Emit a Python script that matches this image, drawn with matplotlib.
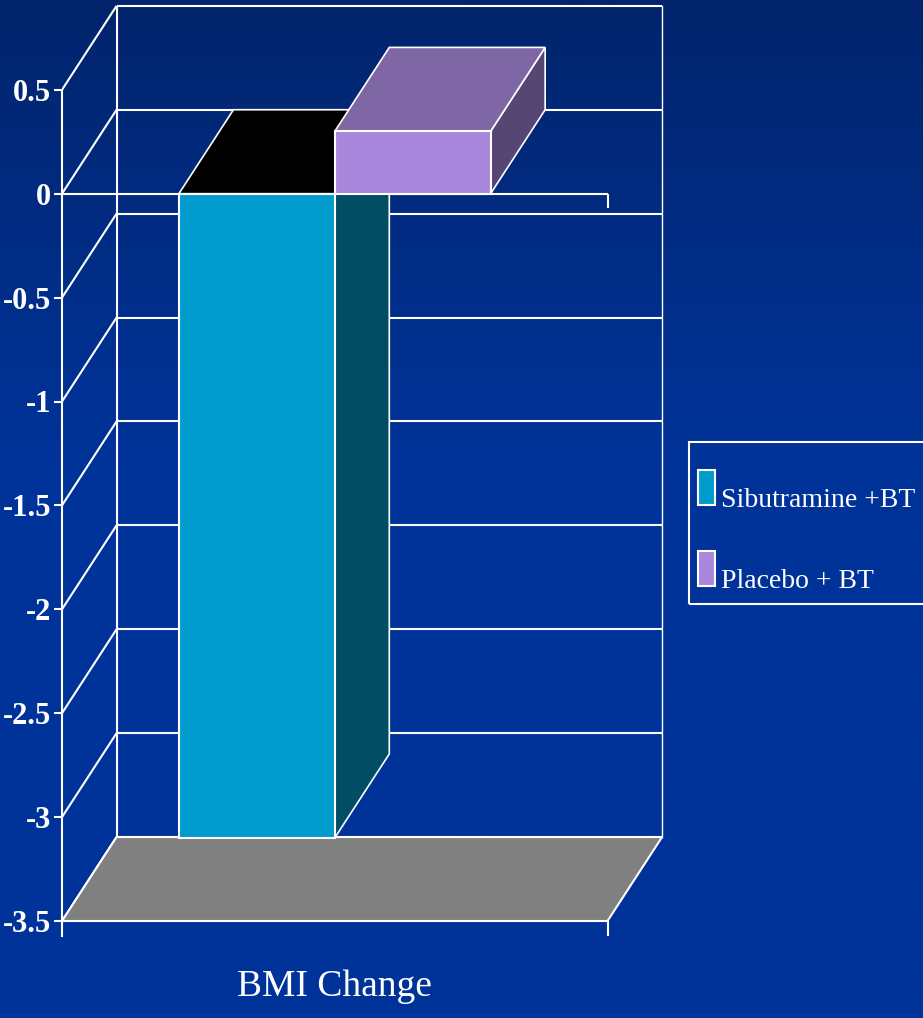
import matplotlib.pyplot as plt
import numpy as np
from matplotlib.patches import Polygon, Rectangle

categories = ["BMI Change"]
series_names = ["Sibutramine +BT", "Placebo + BT"]
bmi_change = [-3.1, 0.3]
y_ticks = [-3.5, -3, -2.5, -2, -1.5, -1, -0.5, 0, 0.5]

front_colors = ["#009cce", "#a987dd"]
top_colors = ["#000000", "#7f67a6"]
side_colors = ["#014d63", "#554673"]

FIG_W, FIG_H = 923, 1018
DX = 0.1      # depth of the 3d box along x (category units)
DY = 0.404    # depth of the 3d box along y (value units)
TICK = 0.07   # length of the category tick marks (value units)
Y_MIN, Y_MAX = y_ticks[0], y_ticks[-1]

# pixel scale of the plot box
PX_X, PX_Y = 545.5, 207.8
X0_PX, YMIN_PX = 62, 921
XLIM = (0, 1.12)
YLIM = (-3.6, 0.92)

plt.rcParams['axes.unicode_minus'] = False
plt.rcParams['font.family'] = ['Liberation Serif', 'DejaVu Serif']

fig = plt.figure(figsize=(FIG_W / 100, FIG_H / 100), dpi=100)

# dark blue background, a bit darker at the top
bg = fig.add_axes([0, 0, 1, 1], zorder=-10)
t = np.clip(np.linspace(0, 1, 400) / 0.45, 0, 1)
c_top = np.array([2, 36, 108]) / 255
c_bot = np.array([0, 51, 153]) / 255
grad = c_top[None, :] * (1 - t[:, None]) + c_bot[None, :] * t[:, None]
bg.imshow(grad[:, None, :], aspect='auto', extent=[0, 1, 0, 1])
bg.axis('off')

left = X0_PX / FIG_W
width = (XLIM[1] - XLIM[0]) * PX_X / FIG_W
bottom_px = YMIN_PX + (Y_MIN - YLIM[0]) * PX_Y
bottom = (FIG_H - bottom_px) / FIG_H
height = (YLIM[1] - YLIM[0]) * PX_Y / FIG_H
ax = fig.add_axes([left, bottom, width, height])
ax.set_xlim(*XLIM)
ax.set_ylim(*YLIM)
ax.patch.set_visible(False)

line = dict(color='white', lw=1.5, solid_capstyle='butt')

# walls: left wall diagonals and back wall gridlines
for v in y_ticks:
    ax.plot([0, DX], [v, v + DY], zorder=1, **line)
    ax.plot([DX, 1 + DX], [v + DY, v + DY], zorder=1, **line)
ax.plot([DX, DX], [Y_MIN + DY, Y_MAX + DY], zorder=1, **line)
ax.plot([1 + DX, 1 + DX], [Y_MIN + DY, Y_MAX + DY], zorder=1, color='white', lw=1)

# floor
ax.add_patch(Polygon([(0, Y_MIN), (DX, Y_MIN + DY), (1 + DX, Y_MIN + DY), (1, Y_MIN)],
                     closed=True, fc='#808080', ec='white', lw=1.5, zorder=2))
ax.plot([1, 1], [Y_MIN, Y_MIN - TICK], zorder=2, **line)

# category axis crossing at zero
ax.plot([0, 1], [0, 0], zorder=2.5, **line)
ax.plot([1, 1], [0, -TICK], zorder=2.5, **line)

# 3d bars
n = len(series_names)
bar_w = 1 / (n + 1.5)
start = 0.5 - n * bar_w / 2
for i, val in enumerate(bmi_change):
    x0 = start + i * bar_w
    x1 = x0 + bar_w
    lo, hi = min(0, val), max(0, val)
    z = 3 + i
    ax.add_patch(Polygon([(x1, lo), (x1 + DX, lo + DY), (x1 + DX, hi + DY), (x1, hi)],
                         closed=True, fc=side_colors[i], ec='white', lw=1.2, zorder=z))
    ax.add_patch(Polygon([(x0, hi), (x0 + DX, hi + DY), (x1 + DX, hi + DY), (x1, hi)],
                         closed=True, fc=top_colors[i], ec='white', lw=1.2, zorder=z))
    ax.add_patch(Rectangle((x0, lo), bar_w, hi - lo, fc=front_colors[i],
                           ec='white', lw=1.5, zorder=z))

# value axis
for s in ['top', 'right', 'bottom']:
    ax.spines[s].set_visible(False)
ax.spines['left'].set_color('white')
ax.spines['left'].set_linewidth(1.5)
ax.spines['left'].set_bounds(Y_MIN - TICK, Y_MAX)
ax.set_yticks(y_ticks)
ax.set_yticklabels([f"{v:g}" for v in y_ticks], fontweight='bold')
ax.tick_params(axis='y', colors='white', length=6, width=1.5, pad=2, labelsize=22)

ax.set_xticks([0.5])
ax.set_xticklabels(categories)
ax.tick_params(axis='x', length=0, pad=20, labelsize=27, labelcolor='white')

# legend box
def fx(px):
    return px / FIG_W

def fy(px):
    return (FIG_H - px) / FIG_H

fig.add_artist(Rectangle((fx(689), fy(604)), fx(960) - fx(689), fy(442) - fy(604),
                         transform=fig.transFigure, fill=False, ec='white', lw=1.5))
for i, name in enumerate(series_names):
    top_px = 470 + i * 81
    fig.add_artist(Rectangle((fx(698), fy(top_px + 35)), fx(17), fy(0) - fy(35),
                             transform=fig.transFigure, fc=front_colors[i],
                             ec='white', lw=1.5))
    fig.text(fx(721), fy(top_px + 37), name, color='white', fontsize=20,
             va='baseline', ha='left')

fig.savefig('out.png', dpi=100)
